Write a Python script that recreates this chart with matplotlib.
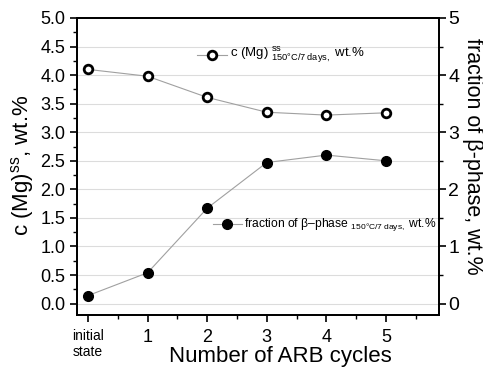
import numpy as np
import matplotlib.pyplot as plt
from matplotlib.ticker import MultipleLocator

plt.rcParams['font.family'] = ['Liberation Sans', 'DejaVu Sans']
plt.rcParams['mathtext.fontset'] = 'custom'
plt.rcParams['mathtext.rm'] = 'Liberation Sans'
plt.rcParams['mathtext.it'] = 'Liberation Sans:italic'

x = np.arange(6)
xticklabels = ['initial\nstate', '1', '2', '3', '4', '5']
c_mg = [4.10, 3.98, 3.61, 3.35, 3.30, 3.34]
beta = [0.14, 0.54, 1.67, 2.47, 2.60, 2.50]

W, H = 483, 367
fig = plt.figure(figsize=(W/100, H/100), dpi=100)
ax = fig.add_axes([77/W, 1-315/H, (439-77)/W, (315-18)/H])
ax2 = ax.twinx()

for y in np.arange(0, 5.01, 0.5):
    ax.axhline(y, color='#dcdcdc', lw=0.8, zorder=0)

ax.plot(x, c_mg, color='#a0a0a0', lw=0.8, marker='o', ms=6.2, mfc='white',
        mec='black', mew=2.0, zorder=3)
ax2.plot(x, beta, color='#a0a0a0', lw=0.8, marker='o', ms=7, mfc='black',
         mec='black', zorder=3)

ax.set_xlim(-0.185, 5.89)
ax.set_ylim(-0.2, 5.0)
ax2.set_ylim(-0.2, 5.0)

ax.set_xticks(x)
ax.set_xticklabels(xticklabels)
ax.xaxis.set_minor_locator(MultipleLocator(0.5))
ax.set_yticks(np.arange(0, 5.01, 0.5))
ax.set_yticklabels([f'{v:.1f}' for v in np.arange(0, 5.01, 0.5)])
ax.yaxis.set_minor_locator(MultipleLocator(0.25))
ax2.set_yticks(np.arange(0, 6))
ax2.yaxis.set_minor_locator(MultipleLocator(0.5))

ax.tick_params(axis='both', which='major', direction='out', length=5, width=1.2,
               labelsize=13, colors='black')
ax.tick_params(axis='x', pad=5)
ax.tick_params(which='minor', direction='out', length=3, width=1.0)
ax2.tick_params(axis='y', which='major', direction='out', length=5, width=1.2,
                labelsize=14, pad=1.5)
ax2.tick_params(axis='y', which='minor', direction='out', length=3, width=1.0)
lab0 = ax.get_xticklabels()[0]
lab0.set_fontsize(10)
lab0.set_linespacing(1.15)

for a in (ax, ax2):
    for s in a.spines.values():
        s.set_linewidth(1.3)

fig.text(280/W, 1-362/H, 'Number of ARB cycles', fontsize=16, ha='center', va='baseline')
fig.text(22/W, 1-165/H, r'c (Mg)$^{\mathrm{ss}}$, wt.%', fontsize=16,
         rotation=90, ha='center', va='center')
fig.text(472/W, 1-156/H, 'fraction of β-phase, wt.%', fontsize=15.5,
         rotation=270, ha='center', va='center')

# legend-like annotations
ax.plot([1.83, 2.33], [4.35, 4.35], color='#a0a0a0', lw=0.8)
ax.plot([2.08], [4.35], marker='o', ms=6.2, mfc='white', mec='black', mew=2.0, ls='none')
ax.text(2.38, 4.35, r'c (Mg) ${}^{\mathrm{ss}}_{\mathrm{150°C/7\ days,}}$ wt.%',
        fontsize=9.5, va='center')
ax.plot([2.09, 2.59], [1.39, 1.39], color='#a0a0a0', lw=0.8)
ax.plot([2.33], [1.39], marker='o', ms=7, mfc='black', mec='black', ls='none')
ax.text(2.62, 1.39, r'fraction of β–phase $_{\mathrm{150°C/7\ days,}}$ wt.%',
        fontsize=8.7, va='center')

fig.savefig('out.png', dpi=100)
